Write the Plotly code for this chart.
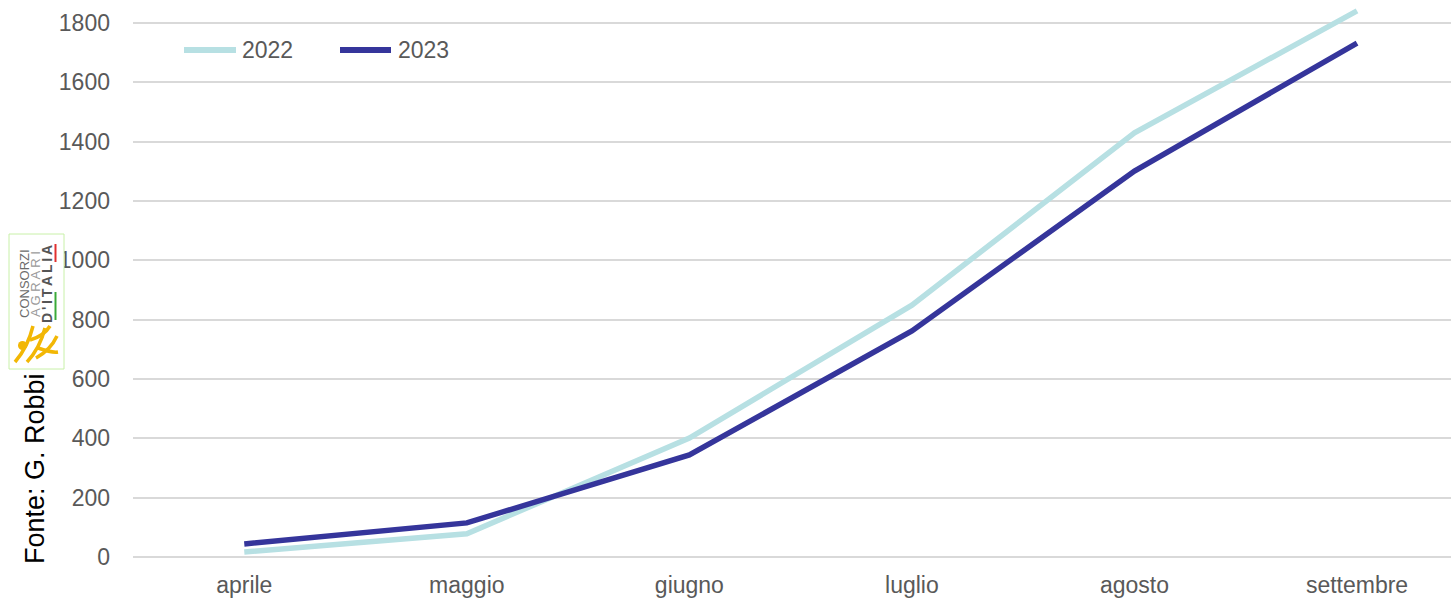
import plotly.graph_objects as go

# Monthly cumulative values per season
mesi = ["aprile", "maggio", "giugno", "luglio", "agosto", "settembre"]
valori_2022 = [17, 78, 401, 849, 1430, 1841]
valori_2023 = [44, 115, 344, 762, 1301, 1732]
y_ticks = [0, 200, 400, 600, 800, 1000, 1200, 1400, 1600, 1800]

COL_2022 = "#B7E0E3"
COL_2023 = "#35359B"

W, H = 1451, 598
ML, MB = 133, 41
PLOT_W = W - ML
PLOT_H = H - MB

GREY = "#595959"
FONT = "Liberation Sans, Arial, sans-serif"


def px(x, y):
    """Convert page pixel position to paper coordinates."""
    return (x - ML) / PLOT_W, (PLOT_H - y) / PLOT_H


fig = go.Figure()
fig.add_trace(go.Scatter(x=mesi, y=valori_2022, name="2022", mode="lines",
                         line=dict(color=COL_2022, width=5.5), cliponaxis=False,
                         showlegend=False))
fig.add_trace(go.Scatter(x=mesi, y=valori_2023, name="2023", mode="lines",
                         line=dict(color=COL_2023, width=5.5), cliponaxis=False,
                         showlegend=False))

shapes = []
annotations = []

# legend with long line keys
for name, col, lx0, lx1, tx in [("2022", COL_2022, 184, 236, 240),
                                ("2023", COL_2023, 340, 391, 396)]:
    a0, yy = px(lx0, 50)
    a1, _ = px(lx1, 50)
    shapes.append(dict(type="line", xref="paper", yref="paper", x0=a0, y0=yy, x1=a1, y1=yy,
                       line=dict(color=col, width=6), layer="above"))
    t0, _ = px(tx, 50)
    annotations.append(dict(xref="paper", yref="paper", x=t0, y=yy, text=name,
                            showarrow=False, xanchor="left", yanchor="middle",
                            font=dict(family=FONT, size=23, color=GREY)))

# source note on the left
fx, fy = px(35, 469)
annotations.append(dict(xref="paper", yref="paper", x=fx, y=fy, text="Fonte: G. Robbi",
                        textangle=-90, showarrow=False, xanchor="center", yanchor="middle",
                        font=dict(family=FONT, size=27, color="#000000")))

# small publisher badge
x0, y0 = px(9, 234)
x1, y1 = px(64, 369)
shapes.append(dict(type="rect", xref="paper", yref="paper", x0=x0, y0=y1, x1=x1, y1=y0,
                   line=dict(color="#C8F0A8", width=1), fillcolor="white", layer="above"))
for txt, cx, size, col in [("CONSORZI", 24, 13, "#6b6b6b"),
                           ("A G R A R I", 35, 13, "#9a9a9a"),
                           ("<b>D\u2009'\u2009I\u2009T\u2009A\u2009L\u2009I\u2009A</b>", 47, 14,
                            "#555555")]:
    ax, ay = px(cx, 284)
    annotations.append(dict(xref="paper", yref="paper", x=ax, y=ay, text=txt, textangle=-90,
                            showarrow=False, xanchor="center", yanchor="middle",
                            font=dict(family=FONT, size=size, color=col)))
# flag stripe
for c, ya, yb in [("#E03030", 244, 262), ("#3AAA3A", 292, 320)]:
    a0, b0 = px(54.5, ya)
    a1, b1 = px(56.5, yb)
    shapes.append(dict(type="rect", xref="paper", yref="paper", x0=a0, y0=b1, x1=a1, y1=b0,
                       line=dict(width=0), fillcolor=c, layer="above"))
# wheat emblem
hx0, hy0 = px(18, 341)
hx1, hy1 = px(27, 350)
shapes.append(dict(type="circle", xref="paper", yref="paper", x0=hx0, y0=hy1, x1=hx1, y1=hy0,
                   line=dict(width=0), fillcolor="#F2B705", layer="above"))
for (lx, ly, ex, ey) in [(15, 362, 33, 326), (27, 362, 45, 328), (36, 358, 57, 336),
                          (38, 348, 58, 352), (30, 340, 50, 326)]:
    p0 = px(lx, ly)
    p1 = px(ex, ey)
    mx, my = px((lx + ex) / 2 + 4, (ly + ey) / 2 + 3)
    path = f"M {p0[0]},{p0[1]} Q {mx},{my} {p1[0]},{p1[1]}"
    shapes.append(dict(type="path", xref="paper", yref="paper", path=path,
                       line=dict(color="#F2B705", width=3.5), layer="above"))

fig.update_layout(
    width=W, height=H,
    margin=dict(l=ML, r=0, t=0, b=MB, pad=0),
    paper_bgcolor="white", plot_bgcolor="white",
    font=dict(family=FONT, size=23, color=GREY),
    showlegend=False,
    xaxis=dict(range=[-0.5, 5 + 94 / 222.6], showgrid=False, zeroline=False,
               showline=False, ticks="", tickfont=dict(size=23, color=GREY),
               ticklabelstandoff=12),
    yaxis=dict(range=[0, 1800 + 23 * 1800 / 534], tickvals=y_ticks,
               showgrid=True, gridcolor="#D9D9D9", gridwidth=2,
               zeroline=True, zerolinecolor="#D9D9D9", zerolinewidth=2,
               showline=False, ticks="", tickfont=dict(size=23, color=GREY),
               ticklabelstandoff=22),
    shapes=shapes, annotations=annotations,
)

fig.write_html("out.html")
